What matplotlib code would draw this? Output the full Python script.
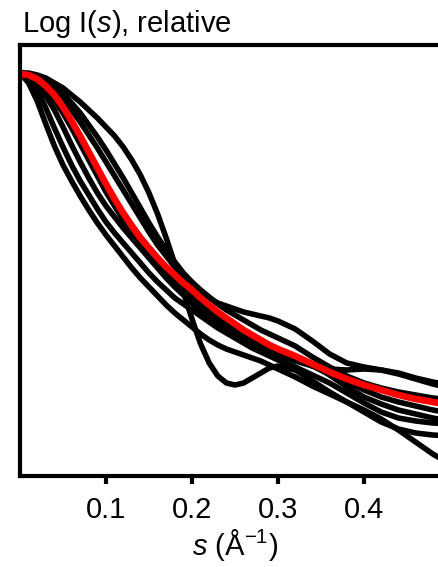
import numpy as np
import matplotlib
matplotlib.use("Agg")
import matplotlib.pyplot as plt

plt.rcParams['font.family'] = ['Liberation Sans', 'DejaVu Sans']
plt.rcParams['mathtext.fontset'] = 'custom'
plt.rcParams['mathtext.rm'] = 'Liberation Sans'
plt.rcParams['mathtext.it'] = 'Liberation Sans:italic'

# scattering vector s (1/A), common grid for all curves
s = [0.00, 0.01, 0.02, 0.03, 0.04, 0.05, 0.06, 0.07, 0.08, 0.09, 0.10,
     0.11, 0.12, 0.13, 0.14, 0.15, 0.16, 0.17, 0.18, 0.19, 0.20,
     0.21, 0.22, 0.23, 0.24, 0.25, 0.26, 0.27, 0.28, 0.29, 0.30,
     0.32, 0.34, 0.36, 0.38, 0.40, 0.42, 0.44, 0.46, 0.48, 0.50]

# individual model curves, log I relative (arbitrary offset)
curve_1 = [4.03, 4.03, 4.01, 3.98, 3.93, 3.88, 3.81, 3.74, 3.66, 3.58, 3.49,
           3.40, 3.29, 3.16, 3.01, 2.83, 2.62, 2.38, 2.12, 1.84, 1.57,
           1.32, 1.13, 1.00, 0.93, 0.91, 0.93, 0.98, 1.03, 1.08, 1.10,
           1.06, 0.95, 0.84, 0.74, 0.64, 0.54, 0.47, 0.43, 0.41, 0.40]
curve_2 = [4.03, 3.93, 3.75, 3.52, 3.30, 3.11, 2.95, 2.80, 2.66, 2.53, 2.41,
           2.30, 2.19, 2.08, 1.98, 1.89, 1.80, 1.71, 1.63, 1.56, 1.49,
           1.42, 1.36, 1.31, 1.27, 1.24, 1.21, 1.18, 1.15, 1.11, 1.07,
           0.99, 0.90, 0.82, 0.74, 0.66, 0.57, 0.46, 0.34, 0.22, 0.12]
curve_3 = [4.03, 3.97, 3.86, 3.68, 3.48, 3.29, 3.11, 2.95, 2.81, 2.67, 2.54,
           2.43, 2.33, 2.23, 2.13, 2.03, 1.94, 1.86, 1.78, 1.72, 1.66,
           1.60, 1.54, 1.48, 1.43, 1.38, 1.33, 1.28, 1.24, 1.20, 1.16,
           1.09, 1.01, 0.93, 0.83, 0.73, 0.64, 0.58, 0.55, 0.53, 0.52]
curve_4 = [4.03, 4.02, 4.00, 3.96, 3.90, 3.82, 3.73, 3.63, 3.51, 3.39, 3.26,
           3.12, 2.98, 2.83, 2.68, 2.53, 2.39, 2.26, 2.14, 2.03, 1.94,
           1.86, 1.79, 1.72, 1.66, 1.61, 1.56, 1.51, 1.46, 1.42, 1.38,
           1.30, 1.19, 1.09, 1.00, 0.93, 0.88, 0.84, 0.81, 0.78, 0.76]
curve_5 = [4.03, 4.02, 3.99, 3.93, 3.86, 3.77, 3.66, 3.54, 3.41, 3.28, 3.14,
           3.00, 2.86, 2.72, 2.58, 2.44, 2.31, 2.20, 2.09, 2.00, 1.91,
           1.84, 1.78, 1.73, 1.70, 1.67, 1.64, 1.62, 1.60, 1.58, 1.55,
           1.47, 1.35, 1.22, 1.13, 1.09, 1.06, 1.03, 0.98, 0.94, 0.91]
curve_6 = [4.03, 4.01, 3.96, 3.87, 3.76, 3.63, 3.48, 3.32, 3.16, 3.00, 2.84,
           2.70, 2.56, 2.43, 2.31, 2.21, 2.11, 2.02, 1.94, 1.86, 1.79,
           1.71, 1.64, 1.57, 1.51, 1.45, 1.39, 1.34, 1.29, 1.25, 1.21,
           1.15, 1.10, 1.07, 1.06, 1.07, 1.06, 1.02, 0.97, 0.92, 0.88]
curve_7 = [4.03, 3.99, 3.92, 3.80, 3.66, 3.49, 3.31, 3.14, 2.98, 2.83, 2.70,
           2.59, 2.48, 2.38, 2.28, 2.18, 2.08, 1.98, 1.89, 1.81, 1.73,
           1.65, 1.58, 1.52, 1.46, 1.41, 1.36, 1.32, 1.29, 1.26, 1.24,
           1.19, 1.11, 1.01, 0.89, 0.79, 0.72, 0.66, 0.62, 0.58, 0.55]
curve_8 = [4.03, 4.01, 3.97, 3.89, 3.79, 3.66, 3.52, 3.37, 3.21, 3.05, 2.90,
           2.76, 2.63, 2.51, 2.39, 2.28, 2.18, 2.08, 1.99, 1.91, 1.83,
           1.76, 1.69, 1.62, 1.56, 1.50, 1.44, 1.39, 1.34, 1.30, 1.26,
           1.18, 1.10, 1.02, 0.94, 0.86, 0.79, 0.74, 0.70, 0.66, 0.63]

# averaged curve (red)
mean_curve = [4.02, 4.01, 3.97, 3.90, 3.81, 3.69, 3.55, 3.40, 3.24, 3.08, 2.92,
              2.77, 2.63, 2.50, 2.38, 2.28, 2.18, 2.09, 2.01, 1.93, 1.86,
              1.78, 1.71, 1.64, 1.58, 1.52, 1.46, 1.41, 1.36, 1.31, 1.27,
              1.20, 1.12, 1.04, 0.97, 0.91, 0.86, 0.81, 0.77, 0.74, 0.71]

x_ticks = [0.1, 0.2, 0.3, 0.4]
x_tick_labels = ['0.1', '0.2', '0.3', '0.4']

W, H = 439, 567
fig = plt.figure(figsize=(W / 100, H / 100), dpi=100)
ax = fig.add_axes([20 / W, (H - 476) / H, 430 / W, (476 - 45) / H])

for c in [curve_1, curve_2, curve_3, curve_4, curve_5, curve_6, curve_7, curve_8]:
    ax.plot(s, c, color='black', lw=4.0, solid_joinstyle='round', solid_capstyle='round')
ax.plot(s, mean_curve, color='#ff0000', lw=4.8, solid_joinstyle='round', solid_capstyle='round')

ax.set_xlim(0, 0.5)
ax.set_ylim(0, 4.31)

for side in ['left', 'top', 'bottom', 'right']:
    ax.spines[side].set_linewidth(3.0)
ax.set_yticks([])
ax.set_xticks(x_ticks)
ax.set_xticklabels(x_tick_labels)
ax.tick_params(axis='x', direction='out', length=5.5, width=3.0, labelsize=21, pad=9)

ax.set_xlabel(r'$s$ (Å$^{-1}$)', fontsize=21, labelpad=2)
fig.text(22 / W, 1 - 32 / H, r'Log I($s$), relative', fontsize=21, ha='left', va='baseline')

fig.savefig('out.png', dpi=100)
